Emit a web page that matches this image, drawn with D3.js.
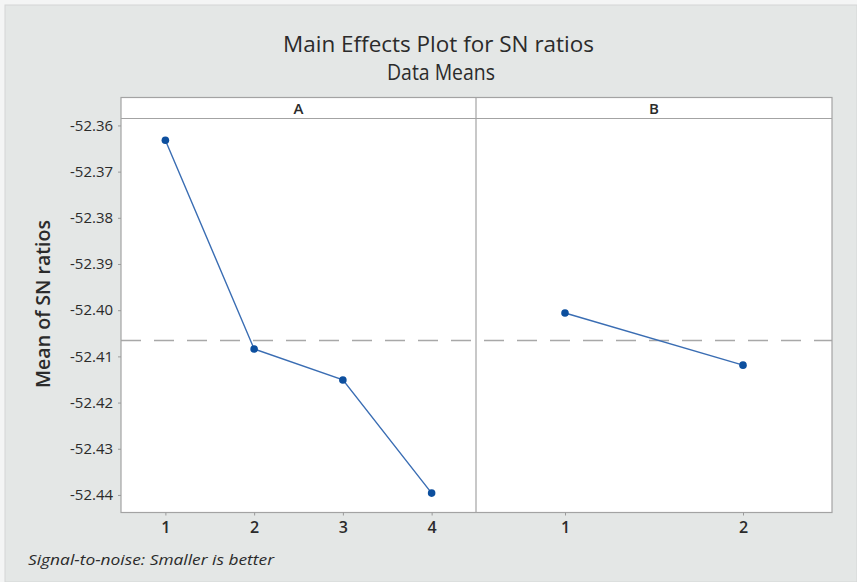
<!DOCTYPE html>
<html>
<head>
<meta charset="utf-8">
<script src="https://cdn.jsdelivr.net/npm/d3@7"></script>
<style>
  html, body { margin: 0; padding: 0; background: #f4f5f5; }
  svg { display: block; }
  text { font-family: "Open Sans", "Noto Sans", sans-serif; fill: #2b2b2b; }
</style>
</head>
<body>
<svg id="chart" width="857" height="582"></svg>
<script>
// Factor levels and mean SN ratio for each level
const levelsA = ["1", "2", "3", "4"];
const meansA = [-52.3632, -52.4084, -52.4151, -52.4396];
const levelsB = ["1", "2"];
const meansB = [-52.4006, -52.4119];

// Y axis ticks
const yTickValues = [-52.36, -52.37, -52.38, -52.39, -52.40, -52.41, -52.42, -52.43, -52.44];
const yTickLabels = ["-52.36", "-52.37", "-52.38", "-52.39", "-52.40", "-52.41", "-52.42", "-52.43", "-52.44"];

const factors = [
  { name: "A", levels: levelsA, means: meansA },
  { name: "B", levels: levelsB, means: meansB }
];

// Grand mean of the SN ratios (same for every factor in a balanced design)
const grandMean = d3.mean(meansA);

const svg = d3.select("#chart");

// Layout
const frameLeft = 5, frameTop = 5;
const plotLeft = 121, plotRight = 832, splitX = 476;
const stripTop = 97.5, plotTop = 118.5, plotBottom = 512.5;

const lineColor = "#3a6db3";
const pointColor = "#0d4f9e";
const borderColor = "#a3a3a3";

// Grey outer frame
svg.append("rect")
  .attr("x", frameLeft).attr("y", frameTop)
  .attr("width", 857 - frameLeft).attr("height", 582 - frameTop)
  .attr("fill", "#e4e7e6")
  .attr("stroke", "#d4d6d6").attr("stroke-width", 1);

// Titles
svg.append("text")
  .attr("x", 438.5).attr("y", 52)
  .attr("text-anchor", "middle")
  .attr("font-size", 22)
  .attr("fill", "#1f1f1f")
  .attr("textLength", 311).attr("lengthAdjust", "spacingAndGlyphs")
  .text("Main Effects Plot for SN ratios");

svg.append("text")
  .attr("x", 441).attr("y", 79.5)
  .attr("text-anchor", "middle")
  .attr("font-size", 21)
  .attr("fill", "#1f1f1f")
  .attr("textLength", 108).attr("lengthAdjust", "spacingAndGlyphs")
  .text("Data Means");

// Shared y scale
const y = d3.scaleLinear()
  .domain([-52.4438, -52.3585])
  .range([plotBottom, plotTop]);

// Panel x scales
const panelBounds = [[plotLeft, splitX], [splitX, plotRight]];
factors.forEach((f, i) => {
  f.x = d3.scalePoint()
    .domain(f.levels)
    .range(panelBounds[i])
    .padding(0.5);
});

// White plotting area including strips
svg.append("rect")
  .attr("x", plotLeft).attr("y", stripTop)
  .attr("width", plotRight - plotLeft).attr("height", plotBottom - stripTop)
  .attr("fill", "#ffffff");

// Grand mean reference line
svg.append("line")
  .attr("x1", plotLeft).attr("x2", plotRight)
  .attr("y1", y(grandMean)).attr("y2", y(grandMean))
  .attr("stroke", "#a8a8a8")
  .attr("stroke-width", 1.6)
  .attr("stroke-dasharray", "20,13");

// Strip labels
factors.forEach((f, i) => {
  const [x0, x1] = panelBounds[i];
  svg.append("text")
    .attr("x", (x0 + x1) / 2).attr("y", 113.5)
    .attr("text-anchor", "middle")
    .attr("font-size", 15)
    .attr("font-weight", 600)
    .attr("fill", "#222")
    .text(f.name);
});

// Frame lines: outer border, strip separator and panel divider
const frame = svg.append("g").attr("fill", "none").attr("stroke", borderColor).attr("stroke-width", 1.2);
frame.append("rect")
  .attr("x", plotLeft).attr("y", stripTop)
  .attr("width", plotRight - plotLeft).attr("height", plotBottom - stripTop);
frame.append("line")
  .attr("x1", plotLeft).attr("x2", plotRight)
  .attr("y1", plotTop).attr("y2", plotTop);
frame.append("line")
  .attr("x1", splitX).attr("x2", splitX)
  .attr("y1", stripTop).attr("y2", plotBottom);

// Y axis
const yAxis = d3.axisLeft(y)
  .tickValues(yTickValues)
  .tickFormat((d, i) => yTickLabels[i])
  .tickSize(3)
  .tickPadding(5);
const gy = svg.append("g")
  .attr("transform", `translate(${plotLeft},0)`)
  .call(yAxis);
gy.select(".domain").remove();
gy.selectAll(".tick line").attr("stroke", "#9a9a9a");
gy.selectAll(".tick text")
  .attr("font-size", 14.5)
  .attr("font-family", "'Open Sans', sans-serif")
  .attr("fill", "#2a2a2a")
  .attr("textLength", 43).attr("lengthAdjust", "spacingAndGlyphs");

// X axes, one per panel
factors.forEach(f => {
  const gx = svg.append("g")
    .attr("transform", `translate(0,${plotBottom})`)
    .call(d3.axisBottom(f.x).tickSize(3).tickPadding(6));
  gx.select(".domain").remove();
  gx.selectAll(".tick line").attr("stroke", "#9a9a9a");
  gx.selectAll(".tick text")
    .attr("font-size", 16)
    .attr("font-weight", 600)
    .attr("font-family", "'Open Sans', sans-serif")
    .attr("fill", "#2a2a2a");
});

// Y axis title
svg.append("text")
  .attr("transform", "translate(50,304) rotate(-90)")
  .attr("text-anchor", "middle")
  .attr("font-size", 19)
  .attr("font-weight", 600)
  .attr("fill", "#1f1f1f")
  .attr("textLength", 168).attr("lengthAdjust", "spacingAndGlyphs")
  .text("Mean of SN ratios");

// Effect lines and level means
factors.forEach(f => {
  const pts = f.levels.map((lv, i) => [f.x(lv), y(f.means[i])]);
  svg.append("path")
    .attr("d", d3.line()(pts))
    .attr("fill", "none")
    .attr("stroke", lineColor)
    .attr("stroke-width", 1.4);
  svg.append("g").selectAll("circle")
    .data(pts)
    .join("circle")
    .attr("cx", d => d[0]).attr("cy", d => d[1])
    .attr("r", 3.8)
    .attr("fill", pointColor);
});

// Footnote
svg.append("text")
  .attr("x", 28).attr("y", 565)
  .attr("font-size", 14)
  .attr("font-style", "italic")
  .attr("fill", "#2a2a2a")
  .attr("textLength", 246).attr("lengthAdjust", "spacingAndGlyphs")
  .text("Signal-to-noise: Smaller is better");
</script>
</body>
</html>
